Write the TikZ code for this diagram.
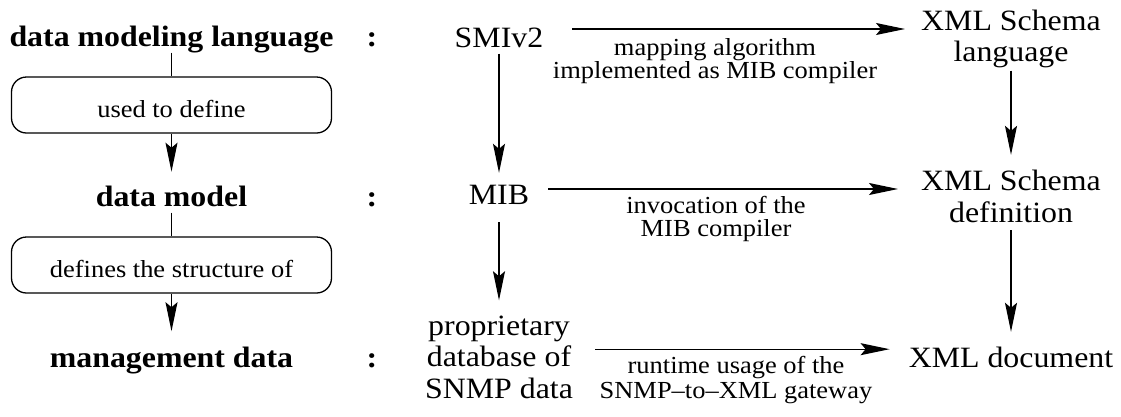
\documentclass[tikz,border=0pt]{standalone}
\usepackage{fontspec}
\setmainfont{Liberation Serif}[FakeStretch=1.08]
\usetikzlibrary{arrows.meta,calc}
\begin{document}
\begin{tikzpicture}[x=1pt,y=-1pt,
  mainfont/.style={font=\fontsize{29.5pt}{31.5pt}\selectfont},
  txt/.style={mainfont, inner sep=0pt, anchor=base, text height=20.1pt, text depth=6.4pt},
  btxt/.style={txt, font=\fontsize{29.5pt}{31.5pt}\selectfont\bfseries},
  mtxt/.style={mainfont, inner sep=0pt, anchor=base, align=center},
  lbl/.style={font=\fontsize{24.5pt}{23pt}\selectfont, inner sep=0pt, anchor=base, align=center},
  boxed/.style={draw, line width=1.3pt, rounded corners=15pt, minimum width=320pt, minimum height=56pt, inner sep=0pt, font=\fontsize{24.5pt}{26pt}\selectfont, text height=25pt, text depth=0pt},
  arr/.style={line width=1.3pt, -{Stealth[length=29pt,width=12pt,inset=5pt]}},
  ln/.style={line width=1.3pt}]
\useasboundingbox (0,0) rectangle (1121,416);
% left column
\node[btxt] (dml) at (171.5,46) {data modeling language};
\node[btxt] (c1) at (372,46) {:};
\node[boxed] (b1) at (171.5,105) {used to define};
\node[btxt] (dm) at (171.5,206) {data model};
\node[btxt] (c2) at (372,206) {:};
\node[boxed] (b2) at (171.5,265) {defines the structure of};
\node[btxt] (md) at (171.5,367) {management data};
\node[btxt] (c3) at (372,367) {:};
% middle column
\node[txt] (smi) at (499,47) {SMIv2};
\node[txt] (mib) at (499,204.5) {MIB};
\node[mtxt] (prop) at (499,398) {proprietary\\database of\\SNMP data};
% right column
\node[mtxt] (xsl) at (1011,61.5) {XML Schema\\language};
\node[mtxt] (xsd) at (1011,222) {XML Schema\\definition};
\node[txt] (xmld) at (1011,367.5) {XML document};
% labels
\node[lbl] (l1) at (715,78) {mapping algorithm\\implemented as MIB compiler};
\node[lbl] (l2) at (716,236) {invocation of the\\MIB compiler};
\node[lbl, font=\fontsize{24.5pt}{25pt}\selectfont] (l3) at (736,398) {runtime usage of the\\SNMP--to--XML gateway};
% vertical connectors
\draw[ln] (dml) -- (b1);
\draw[arr, shorten >=14pt] (b1) -- (dm);
\draw[ln] (dm) -- (b2);
\draw[arr, shorten >=15.5pt] (b2) -- (md);
\draw[arr, shorten >=11.4pt] (smi) -- (mib);
\draw[arr, shorten <=11pt, shorten >=15pt] (mib) -- (prop);
\draw[arr, shorten <=2.6pt, shorten >=15pt] (xsl) -- (xsd);
\draw[arr, shorten <=8pt, shorten >=15.4pt] (xsd) -- (xmld);
% horizontal connectors
\coordinate (a1) at ([shift={(29pt,11.15pt)}]smi.east);
\draw[arr] (a1) -- ($(a1 -| xsl.west)+(-16,0)$);
\coordinate (a2) at ([shift={(19pt,8.65pt)}]mib.east);
\draw[arr] (a2) -- ($(a2 -| xsd.west)+(-23,0)$);
\coordinate (a3) at ([shift={(22pt,7.7pt)}]prop.east);
\draw[arr] (a3) -- ($(a3 -| xmld.west)+(-19,0)$);
\end{tikzpicture}
\end{document}
